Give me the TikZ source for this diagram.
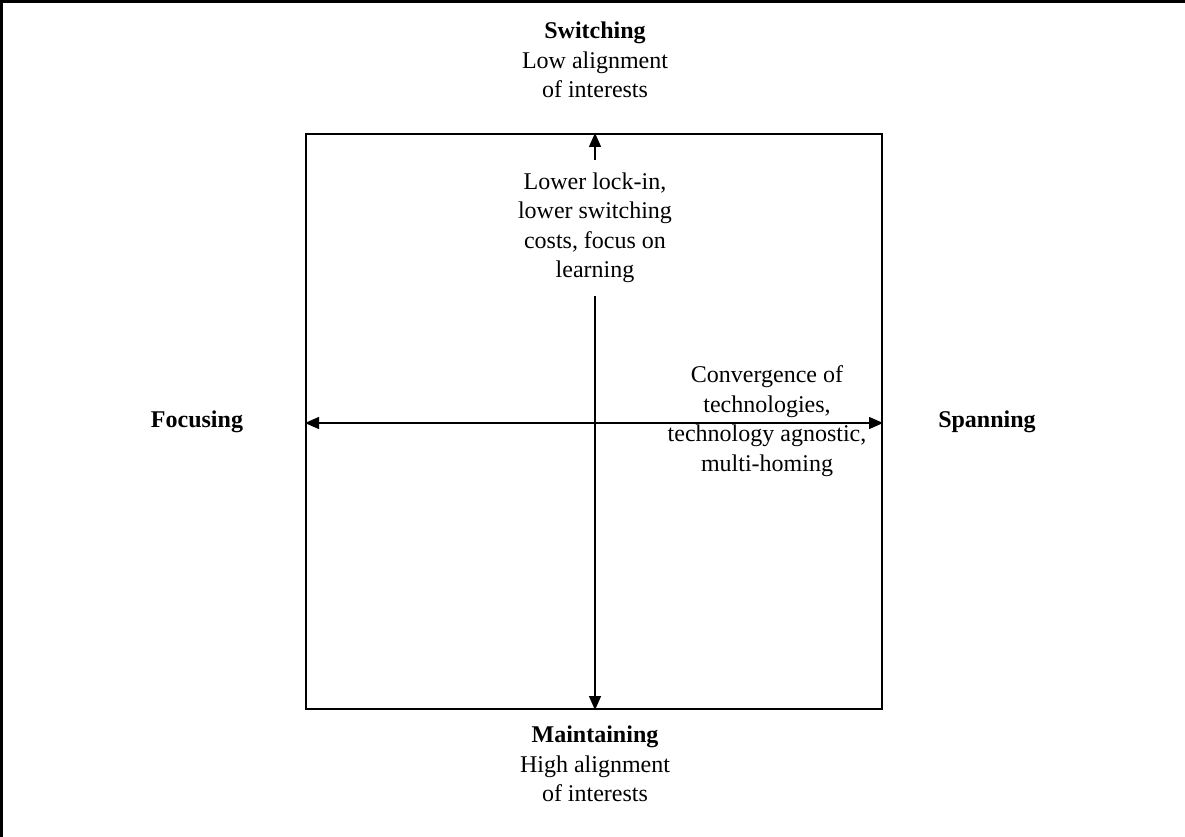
\documentclass[tikz,border=0pt]{standalone}
\usepackage{fontspec}
\setmainfont{Liberation Serif}
\usetikzlibrary{arrows.meta}
\tikzset{
  lbl/.style={align=center, inner sep=0pt, font=\fontsize{24}{29.5}\selectfont},
  axis/.style={line width=1.4pt, -{Triangle[length=14pt,width=12pt]}},
  bothaxis/.style={line width=1.4pt, {Triangle[length=14pt,width=12pt]}-{Triangle[length=14pt,width=12pt]}},
  frame/.style={line width=2pt},
}
\begin{document}
\begin{tikzpicture}[x=1pt,y=-1pt]
\useasboundingbox (0,0) rectangle (1185,837);
% outer frame (right and bottom edges lie beyond the page)
\draw[line width=2.5pt] (1.5,900) -- (1.5,1.5) -- (1300,1.5);

% central square
\node[frame, draw, minimum width=576pt, minimum height=575pt, inner sep=0pt] (sq) at (594,421.5) {};

% vertical axis interrupted by its label
\node[lbl, minimum height=136pt] (lock) at (595,228) {Lower lock-in,\\lower switching\\costs, focus on\\learning};
\draw[axis] (lock.north) -- (sq.north -| lock.north);
\draw[axis] (lock.south) -- (sq.south -| lock.south);

% horizontal axis
\coordinate (hl) at (sq.west |- 0,423);
\coordinate (hr) at (sq.east |- 0,423);
\draw[bothaxis] (hl) -- (hr);

% pole labels
\node[lbl] (switch) at (595,60) {\textbf{Switching}\\Low alignment\\of interests};
\node[lbl] (maint) at (595,764) {\textbf{Maintaining}\\High alignment\\of interests};
\node[lbl] (focus) at (197,422) {\textbf{Focusing}};
\node[lbl] (span) at (987,422) {\textbf{Spanning}};

% quadrant note
\node[lbl] (conv) at (767,421) {Convergence of\\technologies,\\technology agnostic,\\multi-homing};
\end{tikzpicture}
\end{document}
